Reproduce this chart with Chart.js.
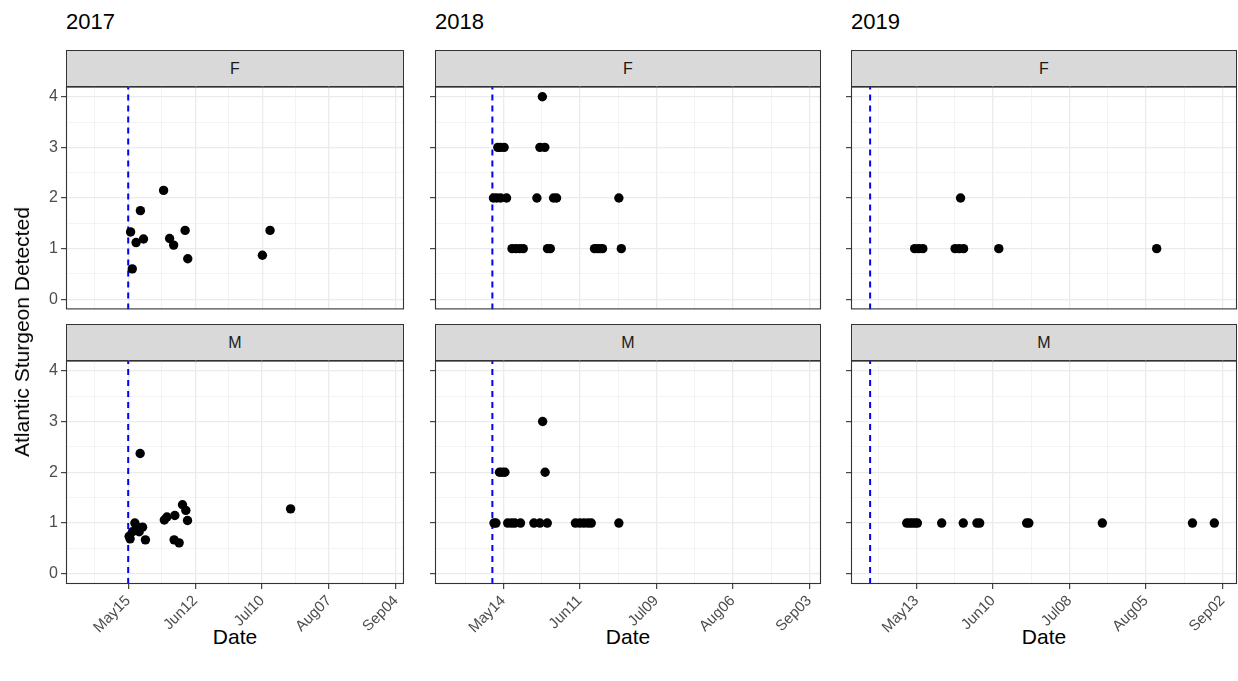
<!DOCTYPE html>
<html>
<head>
<meta charset="utf-8">
<script src="https://cdn.jsdelivr.net/npm/chart.js@4.4.1/dist/chart.umd.min.js"></script>
<style>
  html, body { margin: 0; padding: 0; background: #fff; }
  body { width: 1238px; height: 681px; position: relative; overflow: hidden;
         font-family: "Liberation Sans", Arial, sans-serif; }
  canvas { position: absolute; }
  .strip { position: absolute; background: #D9D9D9; border: 1px solid #333;
           box-sizing: border-box; text-align: center; color: #1A1A1A; font-size: 16px; }
  .year { position: absolute; font-size: 22px; color: #000; }
  .xtitle { position: absolute; font-size: 21px; color: #000; transform: translateX(-50%); white-space: nowrap; }
  .ytitle { position: absolute; font-size: 21px; color: #000; white-space: nowrap;
            transform: translate(-50%, -50%) rotate(-90deg); }
</style>
</head>
<body>
<script>
// ---- data: detections by day of year (x) and number of sturgeon detected (y) ----
const years = [2017, 2018, 2019];
const sexes = ['F', 'M'];

const f2017Day = [136.0, 136.7, 138.3, 141.4, 140.1, 149.8, 152.3, 154.0, 158.8, 159.9, 191.1, 194.3];
const f2017N   = [1.33, 0.60, 1.12, 1.19, 1.75, 2.15, 1.20, 1.07, 1.36, 0.80, 0.87, 1.36];
const m2017Day = [135.4, 135.8, 136.8, 137.8, 138.6, 139.6, 141.0, 142.2, 140.0, 150.1, 151.2, 154.5, 154.2, 156.3, 157.7, 159.1, 159.8, 202.9];
const m2017N   = [0.74, 0.69, 0.83, 1.00, 0.92, 0.83, 0.92, 0.67, 2.37, 1.06, 1.12, 1.15, 0.67, 0.61, 1.36, 1.25, 1.05, 1.28];

const f2018Day = [148.3, 132.0, 133.0, 134.3, 147.4, 149.2, 130.4, 131.6, 133.0, 135.2, 146.3, 152.4, 153.5, 176.3,
                  137.2, 138.6, 140.0, 141.3, 150.2, 151.2, 167.4, 168.4, 169.4, 170.3, 177.2];
const f2018N   = [4, 3, 3, 3, 3, 3, 2, 2, 2, 2, 2, 2, 2, 2,
                  1, 1, 1, 1, 1, 1, 1, 1, 1, 1, 1];
const m2018Day = [148.4, 132.6, 133.6, 134.6, 149.3,
                  130.6, 131.3, 135.6, 137.0, 138.2, 140.3, 145.2, 147.4, 150.1, 160.4, 162.0, 163.5, 165.0, 166.2, 176.3];
const m2018N   = [3, 2, 2, 2, 2,
                  1, 1, 1, 1, 1, 1, 1, 1, 1, 1, 1, 1, 1, 1, 1];

const f2019Day = [149.1, 132.3, 133.8, 135.3, 147.1, 148.6, 150.2, 163.1, 220.9];
const f2019N   = [2, 1, 1, 1, 1, 1, 1, 1, 1];
const m2019Day = [129.4, 130.4, 131.4, 132.4, 133.3, 142.2, 150.1, 155.1, 156.1, 173.3, 174.1, 201.0, 234.0, 242.0];
const m2019N   = [1, 1, 1, 1, 1, 1, 1, 1, 1, 1, 1, 1, 1, 1];

// reference date drawn as dashed vertical line (day of year)
const refDay = [135, 130, 116];

// date axis: 4-week breaks (day of year) and their labels
const tickDay2017 = [135, 163, 191, 219, 247];
const tickLab2017 = ['May15', 'Jun12', 'Jul10', 'Aug07', 'Sep04'];
const tickDay2018 = [134, 162, 190, 218, 246];
const tickLab2018 = ['May14', 'Jun11', 'Jul09', 'Aug06', 'Sep03'];
const tickDay2019 = [133, 161, 189, 217, 245];
const tickLab2019 = ['May13', 'Jun10', 'Jul08', 'Aug05', 'Sep02'];

const yTicks = [0, 1, 2, 3, 4];

// ---- layout ----
const X_MIN = 109, X_MAX = 250.3, Y_MIN = -0.2, Y_MAX = 4.2;
const plotLeft = [66, 435, 851];
const plotWidth = [338, 386, 386];
const plotTop = [86, 360];
const plotHeight = 224;
const stripTop = [50, 324];
const AXW = 45, PADT = 12, PADR = 8;

const FONT = '"Liberation Sans", Arial, sans-serif';

const series = {
  2017: { F: [f2017Day, f2017N], M: [m2017Day, m2017N], ticks: [tickDay2017, tickLab2017] },
  2018: { F: [f2018Day, f2018N], M: [m2018Day, m2018N], ticks: [tickDay2018, tickLab2018] },
  2019: { F: [f2019Day, f2019N], M: [m2019Day, m2019N], ticks: [tickDay2019, tickLab2019] }
};

const framePlugin = {
  id: 'panelFrame',
  afterDraw(chart) {
    const a = chart.chartArea, ctx = chart.ctx;
    ctx.save();
    ctx.strokeStyle = '#333333';
    ctx.lineWidth = 1.1;
    ctx.strokeRect(a.left + 0.5, a.top + 0.5, a.right - a.left - 1, a.bottom - a.top - 1);
    ctx.restore();
  }
};

function addDiv(cls, text, style) {
  const d = document.createElement('div');
  d.className = cls;
  d.textContent = text;
  Object.assign(d.style, style);
  document.body.appendChild(d);
  return d;
}

function makePanel(col, row) {
  const year = years[col], sex = sexes[row];
  const [days, counts] = series[year][sex];
  const [tDays, tLabs] = series[year].ticks;
  const bottomRow = row === 1;
  const XH = bottomRow ? 75 : 0;
  const PADB = bottomRow ? 0 : 12;

  // facet strip
  addDiv('strip', sex, {
    left: plotLeft[col] + 'px', top: stripTop[row] + 'px',
    width: plotWidth[col] + 'px', height: (plotTop[row] - stripTop[row] + 1) + 'px',
    lineHeight: (plotTop[row] - stripTop[row] - 1) + 'px'
  });

  const cv = document.createElement('canvas');
  const w = AXW + plotWidth[col] + PADR;
  const h = PADT + plotHeight + XH + PADB;
  cv.width = w; cv.height = h;
  cv.style.left = (plotLeft[col] - AXW) + 'px';
  cv.style.top = (plotTop[row] - PADT) + 'px';
  cv.style.width = w + 'px'; cv.style.height = h + 'px';
  document.body.appendChild(cv);

  const majorX = new Map(tDays.map((d, i) => [d, tLabs[i]]));
  const xGrid = [];
  tDays.forEach(d => { xGrid.push(d); });
  tDays.forEach(d => { if (d - 14 > X_MIN) xGrid.push(d - 14); });
  if (tDays[tDays.length - 1] + 14 < X_MAX) xGrid.push(tDays[tDays.length - 1] + 14);
  xGrid.sort((a, b) => a - b);
  const yGrid = [0, 0.5, 1, 1.5, 2, 2.5, 3, 3.5, 4];

  const pts = days.map((d, i) => ({ x: d, y: counts[i] }));

  new Chart(cv, {
    type: 'scatter',
    data: {
      datasets: [
        { data: pts, backgroundColor: '#000', borderWidth: 0, pointRadius: 4.7, pointHoverRadius: 4.7 },
        { type: 'line', data: [{ x: refDay[col], y: Y_MIN }, { x: refDay[col], y: Y_MAX }],
          borderColor: '#0000FF', borderWidth: 2, borderDash: [6, 5], pointRadius: 0, fill: false }
      ]
    },
    options: {
      responsive: false, animation: false, devicePixelRatio: 1,
      events: [],
      layout: { padding: { top: PADT, right: PADR, bottom: PADB, left: 0 } },
      plugins: { legend: { display: false }, tooltip: { enabled: false } },
      scales: {
        x: {
          type: 'linear', min: X_MIN, max: X_MAX,
          afterBuildTicks: s => { s.ticks = xGrid.map(v => ({ value: v })); },
          afterFit: s => { s.height = XH; },
          border: { display: false },
          grid: {
            color: '#EBEBEB',
            lineWidth: c => (c.tick && majorX.has(c.tick.value)) ? 1.3 : 0.6,
            drawTicks: bottomRow, tickLength: 5, tickWidth: 1.1,
            tickColor: c => (c.tick && majorX.has(c.tick.value)) ? '#333333' : 'rgba(0,0,0,0)'
          },
          ticks: {
            display: bottomRow, autoSkip: false, minRotation: 45, maxRotation: 45, padding: 3,
            color: '#4D4D4D', font: { family: FONT, size: 15 },
            callback: v => majorX.get(v) || ''
          }
        },
        y: {
          type: 'linear', min: Y_MIN, max: Y_MAX,
          afterBuildTicks: s => { s.ticks = yGrid.map(v => ({ value: v })); },
          afterFit: s => { s.width = AXW; },
          border: { display: false },
          grid: {
            color: '#EBEBEB',
            lineWidth: c => (c.tick && Number.isInteger(c.tick.value)) ? 1.3 : 0.6,
            drawTicks: true, tickLength: 5, tickWidth: 1.1,
            tickColor: c => (c.tick && Number.isInteger(c.tick.value)) ? '#333333' : 'rgba(0,0,0,0)'
          },
          ticks: {
            autoSkip: false, padding: 3, color: '#4D4D4D', font: { family: FONT, size: 16 },
            callback: v => (col === 0 && yTicks.includes(v)) ? String(v) : ''
          }
        }
      }
    },
    plugins: [framePlugin]
  });
}

for (let c = 0; c < 3; c++) {
  addDiv('year', String(years[c]), { left: plotLeft[c] + 'px', top: '9px' });
  addDiv('xtitle', 'Date', { left: (plotLeft[c] + plotWidth[c] / 2) + 'px', top: '625px' });
  for (let r = 0; r < 2; r++) makePanel(c, r);
}
addDiv('ytitle', 'Atlantic Sturgeon Detected', { left: '22px', top: '332px' });
</script>
</body>
</html>
